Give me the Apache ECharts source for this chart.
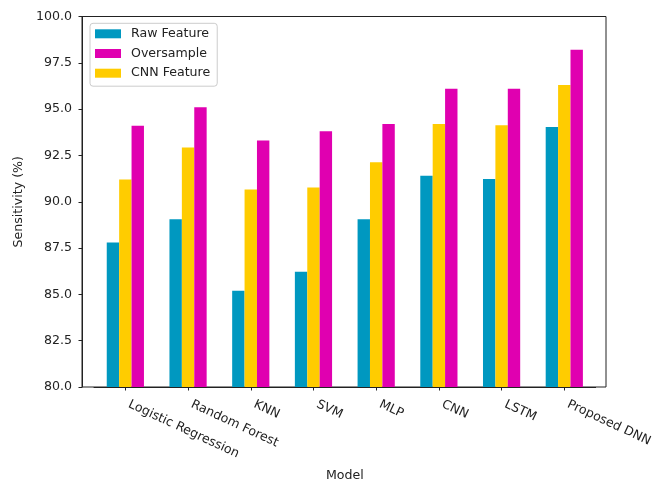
<!DOCTYPE html>
<html>
<head>
<meta charset="utf-8">
<script src="https://cdn.jsdelivr.net/npm/echarts@6/dist/echarts.min.js"></script>
<style>
  html, body { margin: 0; padding: 0; background: #fff; }
  #chart { width: 670px; height: 480px; }
</style>
</head>
<body>
<div id="chart"></div>
<script>
// Models compared and sensitivity scores (%) for each feature setting
const models = ['Logistic Regression', 'Random Forest', 'KNN', 'SVM', 'MLP', 'CNN', 'LSTM', 'Proposed DNN'];
const rawFeature = [87.8, 89.05, 85.2, 86.22, 89.05, 91.4, 91.23, 94.03];
const cnnFeature = [91.2, 92.93, 90.66, 90.77, 92.13, 94.2, 94.13, 96.3];
const oversample = [94.1, 95.1, 93.3, 93.8, 94.2, 96.1, 96.1, 98.2];
const legendOrder = ['Raw Feature', 'Oversample', 'CNN Feature'];
const yTicks = { min: 80, max: 100, step: 2.5 };

const font = 'DejaVu Sans';
const ink = '#222';
const fs = 12.6;

const chart = echarts.init(document.getElementById('chart'), null, { renderer: 'canvas' });

function barSeries(name, values, color) {
  return {
    name: name,
    type: 'bar',
    xAxisIndex: 1,
    yAxisIndex: 1,
    data: values,
    barWidth: 12.4,
    barGap: '0%',
    itemStyle: { color: color }
  };
}

chart.setOption({
  animation: false,
  backgroundColor: '#fff',
  textStyle: { fontFamily: font },
  grid: [
    // outer frame of the axes box
    { left: 82, right: 64, top: 16.5, bottom: 93, show: true, borderColor: ink, borderWidth: 1,
      backgroundColor: 'transparent', outerBoundsMode: 'none', containLabel: false },
    // plotting area for the grouped bars
    { left: 94, right: 74.35, top: 16.5, bottom: 93, outerBoundsMode: 'none', containLabel: false }
  ],
  legend: {
    data: legendOrder,
    orient: 'vertical',
    left: 90,
    top: 23.3,
    itemWidth: 26,
    itemHeight: 9,
    itemGap: 5.7,
    padding: [3.5, 7, 6, 5],
    borderColor: '#cccccc',
    borderWidth: 1,
    borderRadius: 3,
    backgroundColor: 'rgba(255,255,255,0.8)',
    icon: 'rect',
    itemStyle: { borderWidth: 0 },
    textStyle: { fontFamily: font, fontSize: fs, color: ink, lineHeight: 14, padding: [0, 0, 0, 5] }
  },
  xAxis: [
    { gridIndex: 0, type: 'value', show: false, min: 0, max: 1 },
    {
      gridIndex: 1,
      type: 'category',
      data: models,
      name: 'Model',
      nameLocation: 'middle',
      nameGap: 82,
      nameTextStyle: { fontFamily: font, fontSize: fs, color: ink },
      axisLine: { show: true, lineStyle: { color: ink, width: 1 } },
      axisTick: { show: true, alignWithLabel: true, length: 3.5, lineStyle: { color: ink } },
      axisLabel: { rotate: -25, margin: 15, interval: 0, hideOverlap: false, padding: [0, 0, 0, 4],
                   fontFamily: font, fontSize: fs, color: ink },
      splitLine: { show: false }
    }
  ],
  yAxis: [
    { gridIndex: 0, type: 'value', show: false, min: 0, max: 1 },
    {
      gridIndex: 1,
      type: 'value',
      min: yTicks.min,
      max: yTicks.max,
      interval: yTicks.step,
      offset: 12,
      name: 'Sensitivity (%)',
      nameLocation: 'middle',
      nameGap: 45,
      nameTextStyle: { fontFamily: font, fontSize: fs, color: ink },
      axisLine: { show: true, lineStyle: { color: ink, width: 1 } },
      axisTick: { show: true, length: 3.5, lineStyle: { color: ink } },
      axisLabel: { margin: 10, fontFamily: font, fontSize: fs, color: ink, formatter: v => v.toFixed(1) },
      splitLine: { show: false }
    }
  ],
  series: [
    barSeries('Raw Feature', rawFeature, '#0098c0'),
    barSeries('CNN Feature', cnnFeature, '#ffcc00'),
    barSeries('Oversample', oversample, '#e000b0')
  ]
});
</script>
</body>
</html>
